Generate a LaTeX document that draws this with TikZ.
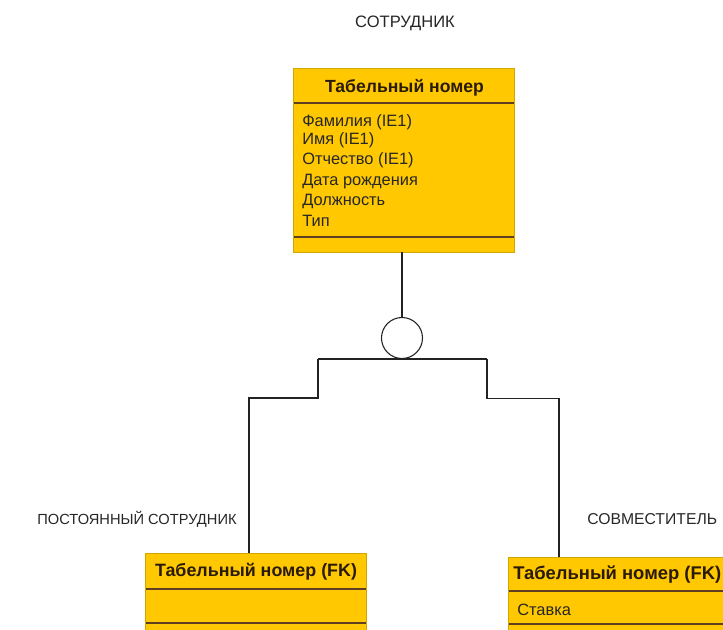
\documentclass[tikz,border=0pt]{standalone}
\usepackage{fontspec}
\setmainfont{Liberation Sans}
\definecolor{entfill}{HTML}{FFC800}
\definecolor{entborder}{HTML}{D2A600}
\definecolor{sepline}{HTML}{5E4020}
\definecolor{linecol}{HTML}{222222}
\definecolor{hdrtext}{HTML}{2A1A08}
\begin{document}
\begin{tikzpicture}[x=0.75pt,y=-0.75pt,
  entity/.style={draw=entborder, fill=entfill, line width=0.6pt, inner sep=0pt},
  sepl/.style={draw=sepline, line width=0.9pt},
  conn/.style={draw=linecol, line width=0.8pt},
  lbl/.style={text=black!85, inner sep=0pt},
  hdr/.style={text=hdrtext, inner sep=0pt},
  attr/.style={font=\fontsize{12.3}{14}\selectfont, text=black!85, inner sep=0pt, anchor=west}]
\useasboundingbox (0,0) rectangle (723,630);
\clip (0,0) rectangle (723,630);
% labels
\node[lbl, font=\fontsize{12.4}{14}\selectfont] (t1) at (405,23) {СОТРУДНИК};
\node[lbl, font=\fontsize{11}{13}\selectfont] (t2) at (137,519.5) {ПОСТОЯННЫЙ СОТРУДНИК};
\node[lbl, font=\fontsize{11.8}{13}\selectfont, anchor=west] (t3) at (587,519.5) {СОВМЕСТИТЕЛЬ};
% top entity
\node[entity, minimum width=165.75pt, minimum height=138pt] (emp) at (403.5,160) {};
\draw[sepl] (293.5,103) -- (513.5,103);
\draw[sepl] (293.5,237) -- (513.5,237);
\node[hdr, font=\fontsize{13.2}{15}\selectfont\bfseries] (emph) at (404.5,88) {Табельный номер};
\node[attr] (a1) at (302,122) {Фамилия (IE1)};
\node[attr] (a2) at (302,140.5) {Имя (IE1)};
\node[attr] (a3) at (302,160) {Отчество (IE1)};
\node[attr] (a4) at (302,182) {Дата рождения};
\node[attr] (a5) at (302,201.5) {Должность};
\node[attr] (a6) at (302,221) {Тип};
% left entity
\node[entity, minimum width=165.75pt, minimum height=80.25pt] (perm) at (255.5,606.5) {};
\draw[sepl] (145.5,589) -- (365.5,589);
\draw[sepl] (145.5,623) -- (365.5,623);
\node[hdr, font=\fontsize{13.4}{15}\selectfont\bfseries] (permh) at (256,571.5) {Табельный номер (FK)};
% right entity
\node[entity, minimum width=174pt, minimum height=77.25pt] (part) at (624,608.5) {};
\draw[sepl] (508.5,591) -- (740,591);
\draw[sepl] (508.5,624) -- (740,624);
\node[hdr, font=\fontsize{13.8}{15}\selectfont\bfseries, anchor=west] (parth) at (513,574.5) {Табельный номер (FK)};
\node[attr] (b1) at (517,610) {Ставка};
% category symbol
\node[circle, draw=linecol, line width=0.8pt, minimum size=30.75pt, inner sep=0pt] (cat) at (402,338) {};
\coordinate (barL) at (318,359);
\coordinate (barR) at (487,359);
\coordinate (inL) at (249,553);
\coordinate (inR) at (559,557);
\draw[conn] (cat.north |- emp.south) -- (cat.north);
\draw[conn] (barL) -- (barR);
\draw[conn] (barL) -- (318,398) -| (inL);
\draw[conn] (barR) -- (487,398.5) -| (inR);
\end{tikzpicture}
\end{document}
